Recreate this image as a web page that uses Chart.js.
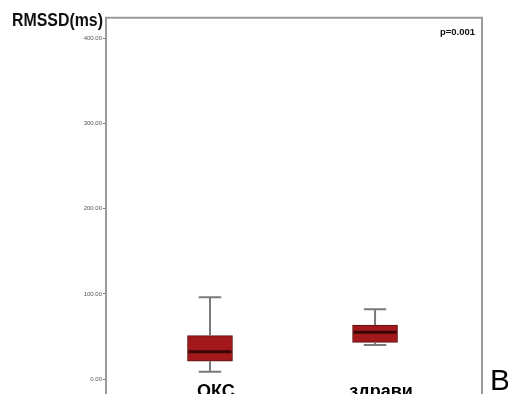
<!DOCTYPE html>
<html>
<head>
<meta charset="utf-8">
<script src="https://cdn.jsdelivr.net/npm/chart.js@4/dist/chart.umd.min.js"></script>
<style>
  html, body { margin: 0; padding: 0; background: #ffffff; overflow: hidden; }
  canvas { display: block; }
</style>
</head>
<body>
<canvas id="c" width="508" height="394"></canvas>
<script>
// RMSSD (ms) distribution per group: whiskers, quartiles and medians
const groups = ['ОКС', 'здрави'];
const whiskerLow = [8.6, 40];
const q1 = [21, 43];
const medians = [32, 55];
const q3 = [51, 63.5];
const whiskerHigh = [96, 82];
const yTicks = [0, 100, 200, 300, 400];
const axisTitle = 'RMSSD(ms)';
const pValueText = 'p=0.001';
const panelLetter = 'B';

const BOX_FILL = '#a3191b';
const BOX_EDGE = '#5a1212';
const MEDIAN_COLOR = '#3a0606';
const WHISKER_COLOR = '#7a7a7a';
const FRAME_COLOR = '#9a9a9a';

// Open frame around the plot area, running off the lower edge
const framePlugin = {
  id: 'frame',
  afterDraw(chart) {
    const { ctx, chartArea: a, height } = chart;
    ctx.save();
    ctx.strokeStyle = FRAME_COLOR;
    ctx.lineWidth = 2;
    ctx.beginPath();
    ctx.moveTo(a.left, height);
    ctx.lineTo(a.left, a.top);
    ctx.lineTo(a.right, a.top);
    ctx.lineTo(a.right, height);
    ctx.stroke();
    ctx.restore();
  }
};

// Whiskers, caps and median bars on top of the quartile boxes
const boxPlugin = {
  id: 'boxWhiskers',
  afterDatasetsDraw(chart) {
    const { ctx, scales: { x, y } } = chart;
    const meta = chart.getDatasetMeta(0);
    ctx.save();
    groups.forEach((g, i) => {
      const cx = x.getPixelForValue(i);
      const w = meta.data[i].width;
      const cap = w / 2;
      ctx.strokeStyle = WHISKER_COLOR;
      ctx.lineWidth = 2;
      ctx.beginPath();
      ctx.moveTo(cx, y.getPixelForValue(q3[i]));
      ctx.lineTo(cx, y.getPixelForValue(whiskerHigh[i]));
      ctx.moveTo(cx - cap / 2, y.getPixelForValue(whiskerHigh[i]));
      ctx.lineTo(cx + cap / 2, y.getPixelForValue(whiskerHigh[i]));
      ctx.moveTo(cx, y.getPixelForValue(q1[i]));
      ctx.lineTo(cx, y.getPixelForValue(whiskerLow[i]));
      ctx.moveTo(cx - cap / 2, y.getPixelForValue(whiskerLow[i]));
      ctx.lineTo(cx + cap / 2, y.getPixelForValue(whiskerLow[i]));
      ctx.stroke();
      ctx.strokeStyle = MEDIAN_COLOR;
      ctx.lineWidth = 3;
      ctx.beginPath();
      ctx.moveTo(cx - w / 2 + 1, y.getPixelForValue(medians[i]));
      ctx.lineTo(cx + w / 2 - 1, y.getPixelForValue(medians[i]));
      ctx.stroke();
    });
    ctx.restore();
  }
};

// Axis title, p-value and panel letter
const textPlugin = {
  id: 'annotations',
  afterDraw(chart) {
    const { ctx, chartArea: a } = chart;
    ctx.save();
    ctx.fillStyle = '#111';
    ctx.textBaseline = 'alphabetic';
    ctx.font = 'bold 18px "Liberation Sans", Arial, sans-serif';
    const tw = ctx.measureText(axisTitle).width;
    const target = 91;
    ctx.save();
    ctx.translate(12, 25.5);
    ctx.scale(target / tw, 1);
    ctx.textAlign = 'left';
    ctx.fillText(axisTitle, 0, 0);
    ctx.restore();

    ctx.font = 'bold 9.5px "Liberation Sans", Arial, sans-serif';
    ctx.textAlign = 'right';
    ctx.fillText(pValueText, a.right - 7, a.top + 17);

    ctx.font = '30px "Liberation Sans", Arial, sans-serif';
    ctx.textAlign = 'left';
    ctx.fillStyle = '#000';
    ctx.fillText(panelLetter, a.right + 8, 390);
    ctx.restore();
  }
};

new Chart(document.getElementById('c'), {
  type: 'bar',
  data: {
    datasets: [{
      data: groups.map((g, i) => ({ x: i, y: [q1[i], q3[i]] })),
      backgroundColor: BOX_FILL,
      borderColor: BOX_EDGE,
      borderWidth: 1,
      borderSkipped: false,
      barThickness: 45
    }]
  },
  options: {
    responsive: false,
    animation: false,
    devicePixelRatio: 1,
    layout: { padding: { top: 17.7, right: 26, left: 0, bottom: 0 } },
    plugins: { legend: { display: false }, tooltip: { enabled: false } },
    scales: {
      x: {
        type: 'linear',
        offset: false,
        min: -0.63,
        max: 1.648,
        afterBuildTicks: (s) => { s.ticks = groups.map((g, i) => ({ value: i })); },
        afterFit: (s) => { s.height = 13; },
        grid: { display: false, offset: false },
        border: { display: false },
        ticks: {
          autoSkip: false,
          maxRotation: 0,
          padding: -8,
          labelOffset: 6,
          color: '#000',
          font: { family: '"Liberation Sans", Arial, sans-serif', size: 18, weight: 'bold' },
          callback: (v) => groups[v]
        }
      },
      y: {
        min: -2.35,
        max: 424.6,
        afterBuildTicks: (s) => { s.ticks = yTicks.map(v => ({ value: v })); },
        afterFit: (s) => { s.width = 106; },
        grid: { display: true, drawOnChartArea: false, drawTicks: true, tickLength: 3, color: '#777', lineWidth: 1 },
        border: { display: false },
        ticks: {
          padding: 1,
          color: '#555',
          font: { family: '"Liberation Sans", Arial, sans-serif', size: 6 },
          callback: (v) => Number(v).toFixed(2)
        }
      }
    }
  },
  plugins: [framePlugin, boxPlugin, textPlugin]
});
</script>
</body>
</html>
